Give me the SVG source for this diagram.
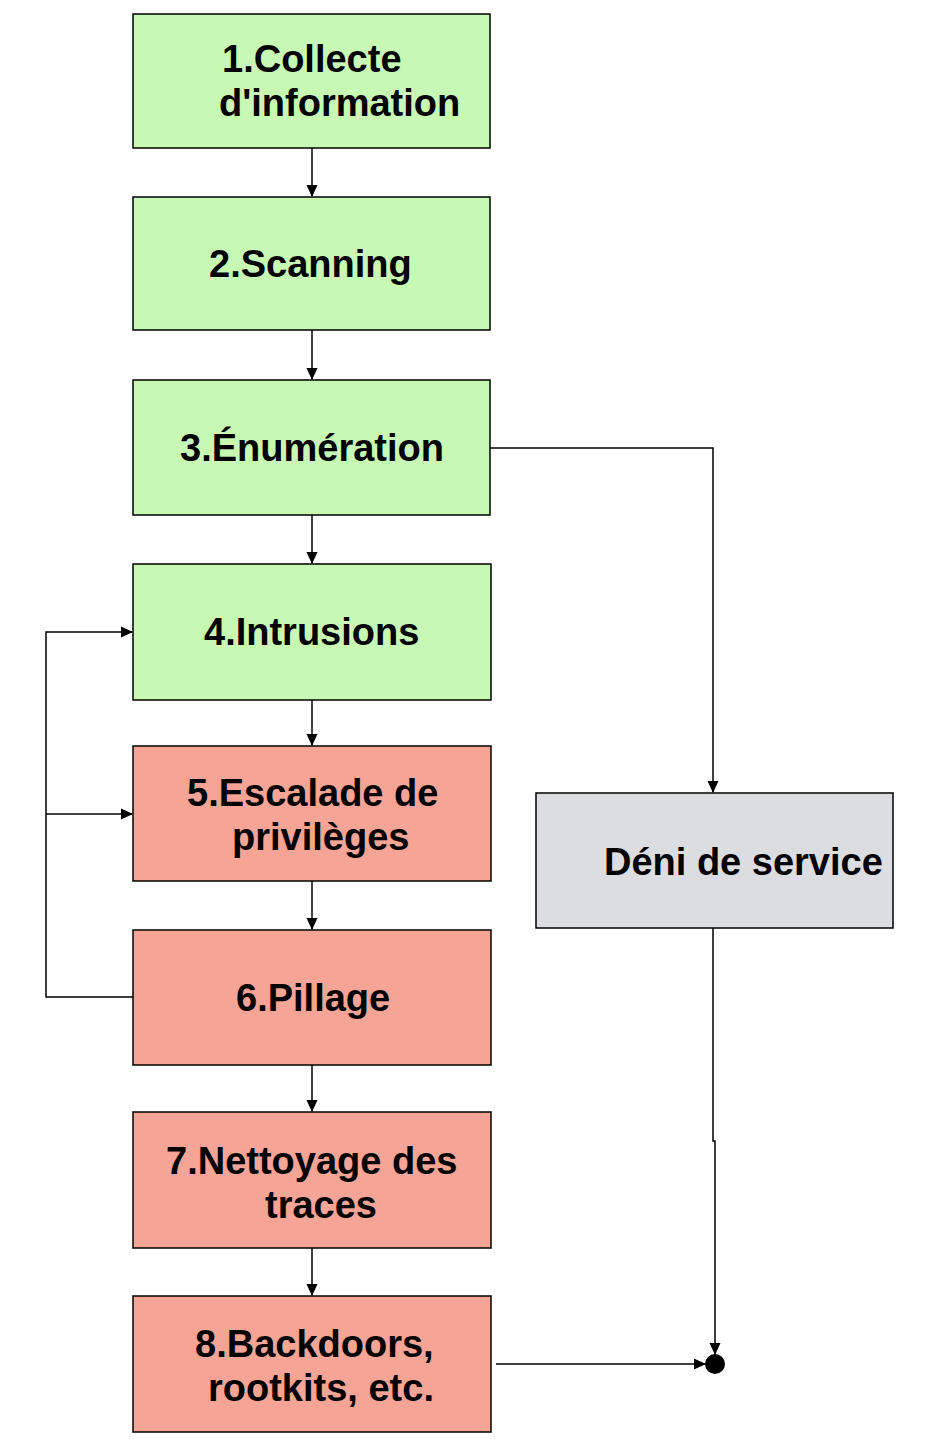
<svg xmlns="http://www.w3.org/2000/svg" width="928" height="1444" viewBox="0 0 928 1444">
<style>
.g{fill:#c7f9b5;stroke:#000;stroke-width:1.5}
.r{fill:#f5a495;stroke:#000;stroke-width:1.5}
.y{fill:#dcdde0;stroke:#000;stroke-width:1.5}
text{font-family:"Liberation Sans",Arial,sans-serif;font-weight:bold;font-size:38px;fill:#000}
.c path{fill:none;stroke:#000;stroke-width:1.5}
</style>
<defs>
<marker id="a" markerWidth="12" markerHeight="12" refX="11" refY="6" orient="auto" markerUnits="userSpaceOnUse">
<path d="M0,0.5 L12,6 L0,11.5 z" fill="#000"/>
</marker>
</defs>
<rect width="928" height="1444" fill="#fff"/>
<g id="n1"><rect class="g" x="133" y="14" width="357" height="134"/><text x="222" y="72">1.Collecte</text><text x="219" y="116">d'information</text></g>
<g id="n2"><rect class="g" x="133" y="197" width="357" height="133"/><text x="209" y="277">2.Scanning</text></g>
<g id="n3"><rect class="g" x="133" y="380" width="357" height="135"/><text x="180" y="461">3.Énumération</text></g>
<g id="n4"><rect class="g" x="133" y="564" width="358" height="136"/><text x="204" y="645">4.Intrusions</text></g>
<g id="n5"><rect class="r" x="133" y="746" width="358" height="135"/><text x="187" y="806">5.Escalade de</text><text x="232" y="850">privilèges</text></g>
<g id="n6"><rect class="r" x="133" y="930" width="358" height="135"/><text x="236" y="1011">6.Pillage</text></g>
<g id="n7"><rect class="r" x="133" y="1112" width="358" height="136"/><text x="166" y="1174">7.Nettoyage des</text><text x="265" y="1218">traces</text></g>
<g id="n8"><rect class="r" x="133" y="1296" width="358" height="136"/><text x="195" y="1357">8.Backdoors,</text><text x="208" y="1401">rootkits, etc.</text></g>
<g id="dos"><rect class="y" x="536" y="793" width="357" height="135"/><text x="604" y="875">Déni de service</text></g>
<g id="end"><circle cx="715" cy="1364" r="10" fill="#000"/></g>
<g class="c" id="connectors">
<path d="M312,148 V196" marker-end="url(#a)"/>
<path d="M312,330 V379" marker-end="url(#a)"/>
<path d="M312,515 V563" marker-end="url(#a)"/>
<path d="M312,700 V745" marker-end="url(#a)"/>
<path d="M312,881 V929" marker-end="url(#a)"/>
<path d="M312,1065 V1111" marker-end="url(#a)"/>
<path d="M312,1248 V1295" marker-end="url(#a)"/>
<path d="M490,448 H713 V792" marker-end="url(#a)"/>
<path d="M133,997 H46 V632 H132" marker-end="url(#a)"/>
<path d="M46,814 H132" marker-end="url(#a)"/>
<path d="M713,928 V1141 H715 V1354" marker-end="url(#a)"/>
<path d="M496,1364 H705" marker-end="url(#a)"/>
</g>
</svg>
